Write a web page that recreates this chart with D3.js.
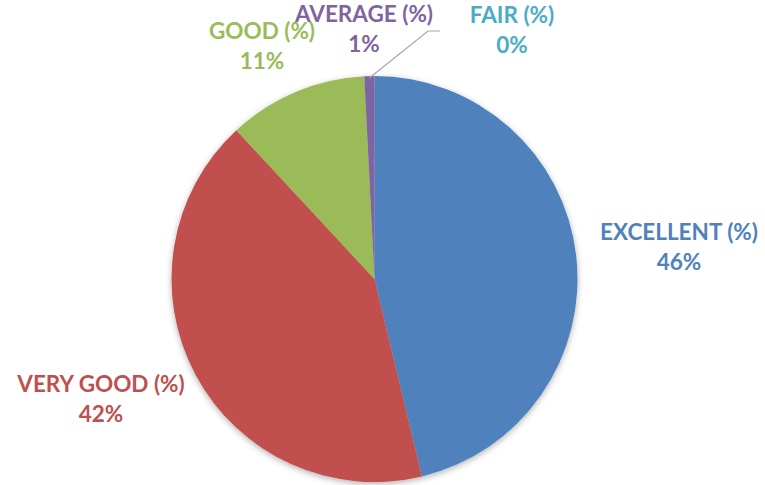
<!DOCTYPE html>
<html>
<head>
<meta charset="utf-8">
<script src="https://cdn.jsdelivr.net/npm/d3@7"></script>
<style>
  body { margin: 0; background: #fff; }
  svg { display: block; }
  .lbl { font-family: Lato, "Open Sans", sans-serif; font-weight: bold; font-size: 22.5px; }
</style>
</head>
<body>
<div id="chart"></div>
<script>
// data
const categories = ["EXCELLENT (%)", "VERY GOOD (%)", "GOOD (%)", "AVERAGE (%)", "FAIR (%)"];
const values = [46.2, 41.8, 11.1, 0.8, 0];
const colors = ["#4F81BD", "#C0504D", "#9BBB59", "#8064A2", "#4BACC6"];

// label layout (center x, baseline of first line)
const labelPos = [[679, 240], [101, 392], [262, 39], [364, 22], [512, 23]];

const width = 765, height = 485,
    cx = 374.5, cy = 279, radius = 203;

const svg = d3.select("#chart").append("svg")
    .attr("width", width)
    .attr("height", height);

const defs = svg.append("defs");
const shadow = defs.append("filter")
    .attr("id", "shadow")
    .attr("x", "-10%").attr("y", "-10%")
    .attr("width", "120%").attr("height", "120%");
shadow.append("feDropShadow")
    .attr("dx", 0).attr("dy", 2)
    .attr("stdDeviation", 3)
    .attr("flood-color", "#000")
    .attr("flood-opacity", 0.3);

const total = d3.sum(values);
const data = categories.map((c, i) => ({ name: c, value: values[i], color: colors[i], pos: labelPos[i] }));

const pie = d3.pie()
    .value(d => d.value)
    .sort(null);

const arc = d3.arc()
    .innerRadius(0)
    .outerRadius(radius);

const g = svg.append("g")
    .attr("transform", "translate(" + cx + "," + cy + ")");

const arcs = pie(data);

g.append("g")
    .attr("filter", "url(#shadow)")
    .selectAll("path")
    .data(arcs)
    .enter().append("path")
    .attr("d", arc)
    .attr("fill", d => d.data.color);

// leader line for the small AVERAGE slice
const avg = arcs[3];
const mid = (avg.startAngle + avg.endAngle) / 2;
const sx = cx + Math.sin(mid) * radius, sy = cy - Math.cos(mid) * radius;
svg.append("polyline")
    .attr("points", [[sx, sy + 2], [428, 31], [440, 31]].map(p => p.join(",")).join(" "))
    .attr("fill", "none")
    .attr("stroke", "#A6A6A6")
    .attr("stroke-width", 1.2);

// labels
const labels = svg.append("g").selectAll("text")
    .data(data)
    .enter().append("text")
    .attr("class", "lbl")
    .attr("text-anchor", "middle")
    .attr("fill", d => d.color)
    .attr("x", d => d.pos[0])
    .attr("y", d => d.pos[1]);

labels.append("tspan")
    .attr("x", d => d.pos[0])
    .text(d => d.name);

labels.append("tspan")
    .attr("x", d => d.pos[0])
    .attr("dy", 30)
    .text(d => Math.round(d.value / total * 100) + "%");
</script>
</body>
</html>
